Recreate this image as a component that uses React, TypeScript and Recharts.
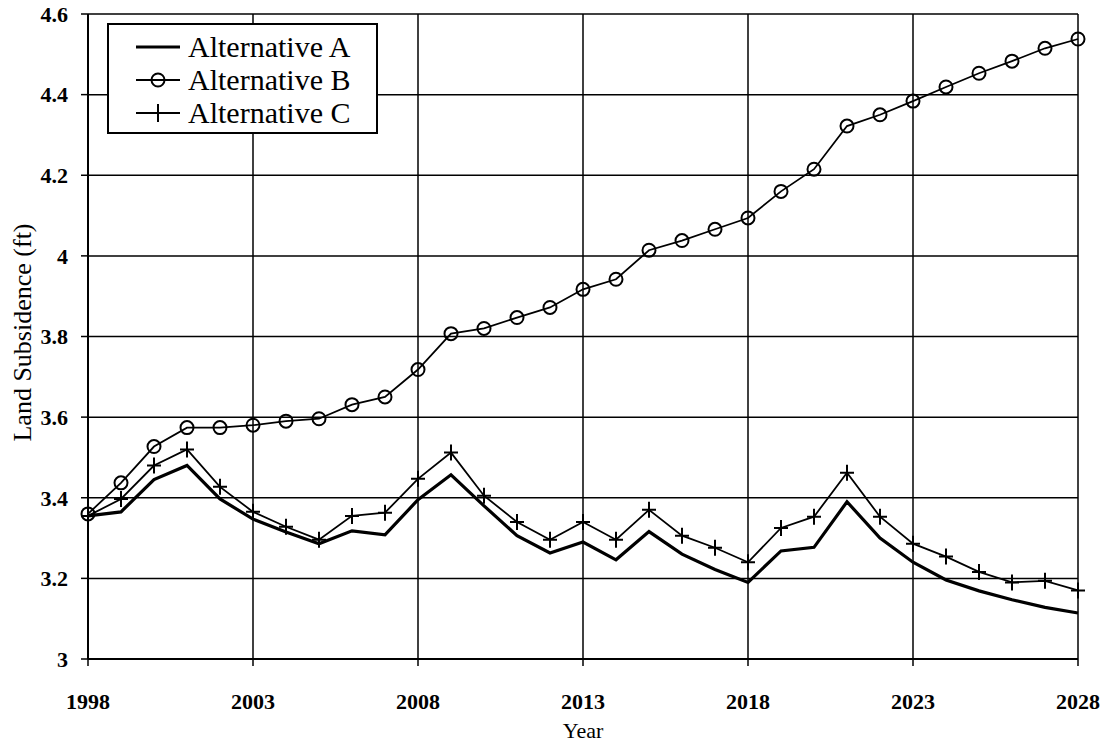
import React from "react"
import {
  LineChart,
  Line,
  XAxis,
  YAxis,
  CartesianGrid,
  Legend,
} from "recharts"

const years = [
  1998, 1999, 2000, 2001, 2002, 2003, 2004, 2005, 2006, 2007, 2008,
  2009, 2010, 2011, 2012, 2013, 2014, 2015, 2016, 2017, 2018,
  2019, 2020, 2021, 2022, 2023, 2024, 2025, 2026, 2027, 2028,
]

const altA = [
  3.355, 3.365, 3.445, 3.48, 3.397, 3.347, 3.315, 3.286, 3.318, 3.308, 3.395,
  3.457, 3.38, 3.306, 3.263, 3.29, 3.246, 3.316, 3.26, 3.222, 3.19,
  3.268, 3.277, 3.39, 3.3, 3.24, 3.196, 3.169, 3.147, 3.128, 3.114,
]

const altB = [
  3.36, 3.437, 3.527, 3.574, 3.574, 3.58, 3.59, 3.596, 3.631, 3.65, 3.718,
  3.807, 3.82, 3.847, 3.872, 3.917, 3.942, 4.014, 4.038, 4.066, 4.094,
  4.16, 4.215, 4.322, 4.35, 4.384, 4.419, 4.453, 4.483, 4.515, 4.538,
]

const altC = [
  3.355, 3.397, 3.48, 3.52, 3.427, 3.365, 3.328, 3.296, 3.355, 3.363, 3.447,
  3.512, 3.405, 3.34, 3.296, 3.34, 3.296, 3.37, 3.306, 3.276, 3.24,
  3.325, 3.353, 3.462, 3.353, 3.286, 3.254, 3.216, 3.19, 3.194, 3.17,
]

const xTicks = [1998, 2003, 2008, 2013, 2018, 2023, 2028]
const yTicks = [3, 3.2, 3.4, 3.6, 3.8, 4, 4.2, 4.4, 4.6]
const seriesNames = ["Alternative A", "Alternative B", "Alternative C"]

const data = years.map((year, i) => ({
  year,
  a: altA[i],
  b: altB[i],
  c: altC[i],
}))

const FONT = '"Liberation Serif", "Times New Roman", serif'

// plus marker for Alternative C
const PlusDot = (props: any) => {
  const { cx, cy, index } = props
  if (cx == null || cy == null) return null
  return (
    <path
      key={`plus-${index}`}
      d={`M${cx - 7},${cy} H${cx + 7} M${cx},${cy - 8} V${cy + 8}`}
      stroke="#000"
      strokeWidth={2}
      fill="none"
    />
  )
}

const renderLegend = () => (
  <div
    style={{
      width: 271,
      height: 111,
      boxSizing: "border-box",
      border: "2px solid #000",
      background: "#fff",
      position: "relative",
      fontFamily: FONT,
      fontSize: 30,
      color: "#000",
    }}
  >
    {seriesNames.map((name, i) => (
      <div
        key={name}
        style={{
          position: "absolute",
          left: 26,
          top: 5 + i * 33,
          height: 33,
          display: "flex",
          alignItems: "center",
          whiteSpace: "nowrap",
        }}
      >
        <svg width={46} height={20} style={{ marginRight: 7 }}>
          <line x1={1} y1={10} x2={45} y2={10} stroke="#000" strokeWidth={i === 0 ? 3 : 2} />
          {i === 1 && <circle cx={23} cy={10} r={6.5} fill="none" stroke="#000" strokeWidth={2} />}
          {i === 2 && <line x1={23} y1={1} x2={23} y2={19} stroke="#000" strokeWidth={2} />}
        </svg>
        <span style={{ lineHeight: "33px" }}>{name}</span>
      </div>
    ))}
  </div>
)

export default function App() {
  const tickStyle = { fontFamily: FONT, fontSize: 22, fontWeight: "bold", fill: "#000" }

  return (
    <div style={{ position: "absolute", left: 0, top: 0, width: 1109, height: 742, background: "#fff" }}>
      <LineChart
        width={1109}
        height={742}
        data={data}
        margin={{ top: 14, right: 31, bottom: 23, left: 28 }}
      >
        <CartesianGrid stroke="#000" strokeWidth={1.5} />
        <XAxis
          dataKey="year"
          type="number"
          domain={[1998, 2028]}
          ticks={xTicks}
          height={60}
          tickSize={7}
          tickMargin={27}
          tick={tickStyle}
          axisLine={{ stroke: "#000", strokeWidth: 2 }}
          tickLine={{ stroke: "#000", strokeWidth: 1.5 }}
          label={{
            value: "Year",
            position: "bottom",
            offset: 3,
            style: { fontFamily: FONT, fontSize: 22, fill: "#000" },
          }}
        />
        <YAxis
          type="number"
          domain={[3, 4.6]}
          ticks={yTicks}
          width={60}
          tickSize={7}
          tickMargin={13}
          tick={tickStyle}
          tickFormatter={(v: number) => String(Number(v.toFixed(1)))}
          axisLine={{ stroke: "#000", strokeWidth: 2 }}
          tickLine={{ stroke: "#000", strokeWidth: 1.5 }}
          label={{
            value: "Land Subsidence (ft)",
            angle: -90,
            position: "center",
            dx: -36,
            dy: -4,
            style: { fontFamily: FONT, fontSize: 26, fill: "#000", textAnchor: "middle" },
          }}
        />
        <Legend
          layout="vertical"
          align="center"
          verticalAlign="middle"
          content={renderLegend}
          wrapperStyle={{ left: 107, top: 23, width: 271, height: 111 }}
        />
        <Line
          type="linear"
          dataKey="a"
          name="Alternative A"
          stroke="#000"
          strokeWidth={3.2}
          dot={false}
          isAnimationActive={false}
        />
        <Line
          type="linear"
          dataKey="b"
          name="Alternative B"
          stroke="#000"
          strokeWidth={1.8}
          dot={{ r: 6.5, fill: "none", stroke: "#000", strokeWidth: 2 }}
          isAnimationActive={false}
        />
        <Line
          type="linear"
          dataKey="c"
          name="Alternative C"
          stroke="#000"
          strokeWidth={1.8}
          dot={PlusDot}
          isAnimationActive={false}
        />
      </LineChart>
    </div>
  )
}
